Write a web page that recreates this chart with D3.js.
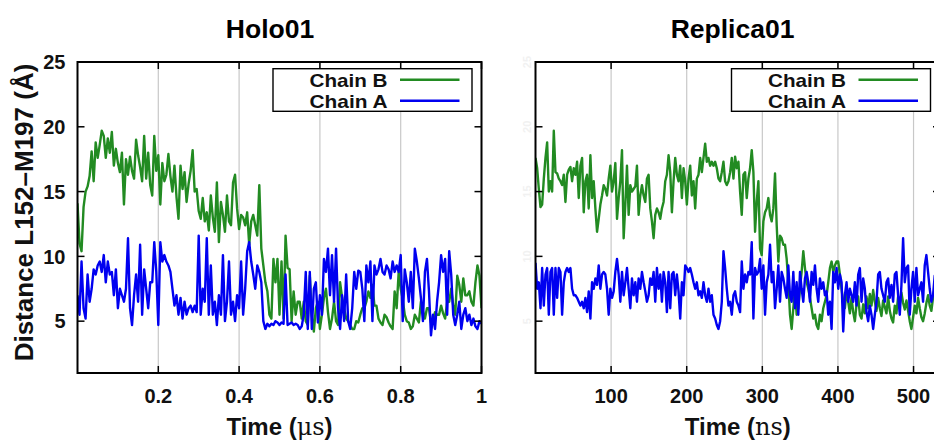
<!DOCTYPE html>
<html>
<head>
<meta charset="utf-8">
<script src="https://cdn.jsdelivr.net/npm/d3@7"></script>
<style>
  body { margin: 0; background: #fff; }
  text { font-family: "Liberation Sans", Arial, sans-serif; font-weight: bold; }
</style>
</head>
<body>
<svg id="chart" width="934" height="442"></svg>
<script>
// Holo01: distance vs time, one sample every 0.005 µs
const holoStep = 0.005;
const holoChainB = [
  14.1,11.0,10.4,13.8,15.0,15.4,16.2,18.1,15.8,18.8,
  17.6,18.6,19.7,19.3,17.6,19.1,18.0,19.6,17.0,18.3,
  17.2,16.5,18.0,14.0,17.5,16.3,17.7,16.6,16.0,19.0,
  17.8,16.9,15.8,19.3,16.0,18.0,15.5,14.7,19.3,16.6,
  17.8,14.0,17.2,15.8,16.3,17.9,16.2,15.0,17.0,14.6,
  12.9,17.0,15.2,16.5,14.2,15.6,16.6,18.2,15.0,15.2,
  13.5,12.9,14.5,12.7,13.4,12.0,14.7,13.0,11.9,15.7,
  11.1,14.2,13.2,11.9,14.7,12.7,12.4,15.7,16.3,13.7,
  12.1,13.2,13.0,12.4,13.4,10.9,12.7,13.2,12.4,11.6,
  15.5,10.6,9.3,8.0,7.3,5.5,5.2,9.8,8.0,9.8,
  5.5,9.6,5.2,11.6,9.1,9.0,5.0,7.3,5.5,6.5,
  6.5,5.2,6.5,5.0,4.7,8.5,5.5,4.2,6.0,6.5,
  4.4,5.5,6.8,7.5,5.7,4.4,5.2,6.5,5.0,4.7,
  8.0,6.8,6.0,5.2,5.0,4.7,4.4,4.4,5.0,4.9,
  5.5,6.0,6.0,6.5,7.3,6.8,7.8,6.2,6.2,5.2,
  4.9,4.7,5.5,5.3,4.9,4.6,4.4,7.3,6.0,8.8,
  7.5,6.7,5.5,5.0,4.9,4.4,4.6,5.5,5.2,4.9,
  6.5,5.8,5.2,6.0,6.0,4.9,5.0,5.7,5.5,5.5,
  6.2,5.6,5.2,6.5,6.5,7.5,6.2,5.5,8.5,7.8,
  6.5,8.3,7.0,7.0,7.3,6.5,6.2,8.0,9.3,8.5,
  6.0
];
const holoChainA = [
  7.0,5.5,9.6,6.0,5.2,8.6,6.5,7.5,9.0,8.6,
  9.3,9.6,8.8,10.1,8.0,9.6,8.6,8.8,7.0,9.0,
  6.0,7.5,7.0,6.5,7.5,11.4,6.0,4.7,7.0,8.6,
  6.5,10.9,5.5,9.0,7.5,6.0,8.0,8.0,11.1,8.8,
  4.7,11.1,9.6,10.1,9.6,9.3,8.8,7.5,6.2,7.0,
  5.5,6.8,5.2,6.5,5.5,6.0,6.2,5.7,6.2,5.7,
  11.6,5.5,7.5,6.5,11.4,5.5,9.3,5.5,6.5,4.7,
  7.0,5.5,10.1,5.0,6.5,9.6,5.5,6.5,5.0,7.0,
  6.0,9.6,5.5,7.5,10.4,11.1,9.6,8.6,7.5,9.3,
  8.8,8.0,5.0,4.4,4.8,4.6,4.8,4.7,5.0,4.9,
  4.7,4.9,4.8,8.6,4.7,4.8,4.9,4.7,4.8,4.7,
  4.4,4.6,5.5,8.8,4.4,8.8,4.4,7.5,8.0,4.9,
  7.0,5.5,9.8,8.8,10.6,7.0,10.1,6.5,10.6,6.0,
  4.4,7.0,5.0,8.6,5.0,4.4,6.0,8.8,7.5,8.9,
  8.8,7.5,5.0,9.3,8.0,9.6,5.0,9.3,8.6,9.0,
  9.8,8.8,8.6,9.3,9.0,8.3,9.6,8.8,9.3,8.8,
  10.1,5.0,9.0,8.0,6.5,8.8,6.0,10.6,9.6,8.3,
  6.8,5.0,8.8,9.8,7.3,3.9,5.5,4.4,6.5,8.0,
  10.1,8.8,9.8,5.5,10.4,8.6,5.5,4.7,5.5,6.5,
  4.4,5.5,6.0,5.0,5.5,4.7,5.2,4.6,4.4,5.0,
  4.8
];

// Replica01: one sample every 2.2 ns
const replicaStep = 2.2;
const replicaChainB = [
  17.6,16.8,15.2,13.8,14.0,16.0,17.6,18.8,15.0,15.8,
  15.0,19.7,16.5,16.4,16.0,15.8,15.5,16.3,14.2,16.3,
  16.7,16.9,15.8,16.8,16.3,17.3,14.5,17.0,17.6,13.4,
  15.8,16.3,13.7,17.8,14.5,15.8,13.7,11.9,12.9,14.0,
  14.7,15.5,15.2,14.7,16.0,17.0,15.0,15.8,17.2,12.9,
  14.5,15.8,18.2,11.4,14.0,17.0,13.2,15.5,15.0,15.2,
  15.4,17.0,13.2,14.7,15.5,14.7,14.2,16.0,16.3,13.7,
  12.7,11.4,13.2,13.7,13.4,12.9,13.7,14.2,15.8,16.3,
  17.8,16.5,13.4,15.8,17.6,16.3,15.8,17.0,14.5,16.8,
  15.8,14.0,16.0,17.0,14.7,15.8,13.7,16.0,16.3,17.6,
  16.5,17.6,18.7,17.3,17.6,17.0,17.3,17.0,17.3,16.8,
  16.0,15.8,16.5,17.3,15.8,15.5,
  15.8,16.5,17.6,16.0,17.7,16.8,17.3,15.0,13.2,16.3,
  16.5,14.5,16.0,16.8,18.2,16.5,11.9,14.2,15.8,10.6,
  10.1,12.7,13.4,13.7,14.5,13.2,12.7,13.7,16.4,12.4,
  9.6,11.6,11.4,10.9,10.9,9.8,8.0,5.5,4.4,6.0,
  7.5,5.5,6.0,7.5,8.8,10.4,9.1,8.0,7.5,6.8,
  6.0,5.2,5.5,4.7,4.4,5.5,5.0,6.0,6.5,7.0,
  8.0,9.1,9.6,8.8,9.3,9.6,9.6,8.6,7.5,6.5,
  6.0,7.3,6.5,5.6,6.8,5.7,5.0,6.3,6.9,5.5,
  5.2,6.3,5.6,6.9,6.0,7.1,6.2,7.4,6.5,5.8,
  6.8,6.0,5.4,6.6,6.1,5.6,6.9,5.8,5.2,4.9,
  6.2,5.6,6.9,6.3,7.2,6.4,5.9,6.6,5.8,5.0,
  4.4,5.3,6.2,5.6,6.8,6.0,5.3,5.0,5.6,6.4,
  7.0,6.2,5.8,
  6.8,7.6,6.0,5.4,6.6,7.2,6.2,5.8
];
const replicaChainA = [
  9.5,7.5,8.0,6.0,9.1,6.2,8.6,9.1,5.5,8.8,
  9.1,5.5,9.1,6.8,9.1,8.8,5.5,8.0,8.8,9.1,
  8.8,9.1,7.5,7.0,7.0,6.8,6.5,6.2,6.5,6.0,
  6.8,5.7,7.3,5.2,8.0,7.5,8.3,7.8,9.3,7.5,
  8.6,8.8,8.6,7.5,5.5,7.5,6.8,7.3,8.8,9.8,
  8.6,6.5,8.8,7.0,8.0,9.1,7.5,6.0,8.3,7.0,
  8.0,6.5,8.3,7.5,8.8,8.0,7.3,6.5,7.0,8.3,
  7.8,8.8,6.5,9.1,7.5,8.6,6.5,8.8,8.0,5.7,
  8.8,6.0,8.6,8.8,7.0,8.6,7.3,5.2,8.0,7.0,
  9.3,9.1,8.8,9.1,8.6,8.0,7.5,8.0,7.0,7.3,
  6.8,8.0,7.0,6.5,7.5,6.5,7.0,5.5,5.2,4.7,
  4.4,5.0,6.5,10.4,9.1,7.5,
  6.2,6.5,5.5,7.0,7.3,6.5,6.2,5.7,9.6,7.5,
  8.6,8.0,8.8,8.6,11.1,5.2,9.1,8.6,8.8,9.8,
  7.5,9.3,5.5,8.0,8.6,10.9,8.0,8.8,6.0,7.5,
  9.3,6.5,8.8,8.3,7.5,6.8,9.3,7.0,6.5,8.8,
  6.0,8.0,5.5,8.8,7.5,6.5,8.3,8.8,8.0,6.5,
  8.8,7.8,9.3,7.5,6.5,8.3,7.5,8.0,7.0,7.3,
  5.5,6.5,4.4,8.8,8.0,9.1,7.5,8.6,8.0,4.2,
  7.0,8.0,6.5,7.5,7.0,6.5,8.0,6.2,8.6,9.1,
  6.5,8.3,7.5,5.7,5.0,6.2,5.5,4.4,5.5,6.5,
  8.6,8.8,7.5,7.0,6.5,8.0,8.3,6.8,7.8,6.5,
  8.6,8.8,7.0,5.5,7.8,11.4,8.0,9.1,9.3,5.5,
  7.5,8.8,6.5,9.1,7.0,7.5,8.0,6.5,9.3,10.1,
  8.8,7.5,6.5,
  7.0,8.5,6.0,7.5,9.0,7.0,6.5,8.0
];

const yTicks = [5, 10, 15, 20, 25];
const holoTicks = [0.2, 0.4, 0.6, 0.8, 1];
const replicaTicks = [100, 200, 300, 400, 500];
const legendLabels = ['Chain B', 'Chain A'];

const colorB = '#228b22';
const colorA = '#0000f0';

const svg = d3.select('#chart');
svg.append('rect').attr('width', 934).attr('height', 442).attr('fill', '#fff');

const plotTop = 62, plotBottom = 373;
const y = d3.scaleLinear().domain([1, 25]).range([plotBottom, plotTop]);

function drawPanel(p) {
    const x = d3.scaleLinear().domain(p.domain).range([p.left, p.right]);
    const g = svg.append('g');
    const clipId = 'clip-' + p.id;

    g.append('clipPath').attr('id', clipId)
        .append('rect')
        .attr('x', p.left).attr('y', plotTop)
        .attr('width', p.right - p.left).attr('height', plotBottom - plotTop);

    // vertical grid
    g.append('g').selectAll('line')
        .data(p.ticks)
        .enter().append('line')
        .attr('x1', d => x(d)).attr('x2', d => x(d))
        .attr('y1', plotTop).attr('y2', plotBottom)
        .attr('stroke', '#c8c8c8')
        .attr('stroke-width', 1.2);

    // series, chain B first so chain A sits on top
    const line = d3.line()
        .x((d, i) => x(i * p.step))
        .y(d => y(d));

    [[p.B, colorB], [p.A, colorA]].forEach(([vals, col]) => {
        g.append('path')
            .datum(vals)
            .attr('clip-path', `url(#${clipId})`)
            .attr('fill', 'none')
            .attr('stroke', col)
            .attr('stroke-width', 2.4)
            .attr('stroke-linejoin', 'round')
            .attr('d', line);
    });

    // inward ticks
    const tk = 7;
    const ticks = g.append('g').attr('stroke', '#000').attr('stroke-width', 1.5);
    yTicks.forEach(v => {
        ticks.append('line').attr('x1', p.left).attr('x2', p.left + tk)
            .attr('y1', y(v)).attr('y2', y(v));
        ticks.append('line').attr('x1', p.right - tk).attr('x2', p.right)
            .attr('y1', y(v)).attr('y2', y(v));
    });
    p.ticks.forEach(v => {
        ticks.append('line').attr('x1', x(v)).attr('x2', x(v))
            .attr('y1', plotBottom).attr('y2', plotBottom - tk);
        ticks.append('line').attr('x1', x(v)).attr('x2', x(v))
            .attr('y1', plotTop).attr('y2', plotTop + tk);
    });

    // frame
    g.append('rect')
        .attr('x', p.left).attr('y', plotTop)
        .attr('width', p.right - p.left).attr('height', plotBottom - plotTop)
        .attr('fill', 'none')
        .attr('stroke', '#000')
        .attr('stroke-width', 2);

    // x tick labels
    g.append('g').selectAll('text')
        .data(p.ticks)
        .enter().append('text')
        .attr('x', d => x(d))
        .attr('y', 403)
        .attr('text-anchor', 'middle')
        .attr('font-size', '20px')
        .attr('fill', '#111')
        .text(d => String(d));

    // y tick labels
    if (p.yLabels === 'normal') {
        g.append('g').selectAll('text')
            .data(yTicks)
            .enter().append('text')
            .attr('x', p.left - 12)
            .attr('y', d => y(d))
            .attr('dy', '0.36em')
            .attr('text-anchor', 'end')
            .attr('font-size', '20px')
            .attr('fill', '#111')
            .text(d => d);
    } else {
        // washed-out labels, rotated
        g.append('g').selectAll('text')
            .data(yTicks)
            .enter().append('text')
            .attr('transform', d => `translate(${p.left - 5},${y(d)}) rotate(-90)`)
            .attr('text-anchor', 'middle')
            .attr('font-size', '11px')
            .attr('fill', '#f1f1f1')
            .text(d => d);
    }

    // titles
    g.append('text')
        .attr('x', p.titleX).attr('y', 37.5)
        .attr('text-anchor', 'middle')
        .attr('font-family', 'Lato, "Open Sans", sans-serif')
        .attr('font-size', '26.5px')
        .attr('fill', '#000')
        .text(p.title);

    const xt = g.append('text')
        .attr('x', (p.left + Math.min(p.right, 940)) / 2)
        .attr('y', 435)
        .attr('text-anchor', 'middle')
        .attr('font-size', '24px')
        .attr('fill', '#111');
    xt.append('tspan').text('Time (');
    xt.append('tspan').attr('font-weight', 'normal').attr('font-family', '"DejaVu Serif", serif').text(p.unit);
    xt.append('tspan').text(')');

    // legend
    const lx = p.right - 208.5, ly = 68.7;
    const lg = g.append('g');
    lg.append('rect')
        .attr('x', lx).attr('y', ly)
        .attr('width', 199).attr('height', 42.6)
        .attr('fill', '#fff')
        .attr('stroke', '#000')
        .attr('stroke-width', 1.4);
    [colorB, colorA].forEach((col, i) => {
        const cy = ly + 11 + i * 21;
        lg.append('text')
            .attr('x', lx + 114.5).attr('y', cy)
            .attr('dy', '0.36em')
            .attr('text-anchor', 'end')
            .attr('font-size', '19px')
            .attr('textLength', 78)
            .attr('lengthAdjust', 'spacingAndGlyphs')
            .attr('fill', '#111')
            .text(legendLabels[i]);
        lg.append('line')
            .attr('x1', lx + 127).attr('x2', lx + 186.5)
            .attr('y1', cy).attr('y2', cy)
            .attr('stroke', col)
            .attr('stroke-width', 2.4);
    });
}

drawPanel({
    id: 'holo', title: 'Holo01', titleX: 270,
    left: 77.5, right: 481.5, domain: [0, 1],
    ticks: holoTicks, step: holoStep, unit: 'μs',
    B: holoChainB, A: holoChainA, yLabels: 'normal'
});

drawPanel({
    id: 'replica', title: 'Replica01', titleX: 732.5,
    left: 535.5, right: 940, domain: [0, 535],
    ticks: replicaTicks, step: replicaStep, unit: 'ns',
    B: replicaChainB, A: replicaChainA, yLabels: 'faint'
});

// shared y-axis title
svg.append('text')
    .attr('transform', 'translate(33,212.5) rotate(-90)')
    .attr('text-anchor', 'middle')
    .attr('font-size', '26px')
    .attr('fill', '#111')
    .text('Distance L152\u2013M197 (\u00C5)');
</script>
</body>
</html>
